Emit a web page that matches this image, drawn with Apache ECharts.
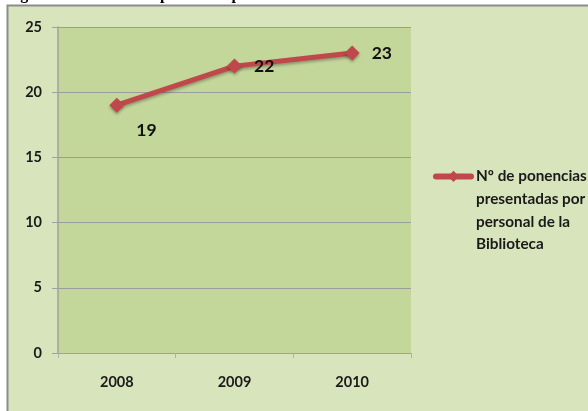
<!DOCTYPE html>
<html>
<head>
<meta charset="utf-8">
<script src="https://cdn.jsdelivr.net/npm/echarts@6/dist/echarts.min.js"></script>
<style>
  html, body { margin: 0; padding: 0; background: #ffffff; }
  #chart { width: 588px; height: 411px; }
</style>
</head>
<body>
<div id="chart"></div>
<script>
// Ponencias presentadas por personal de la Biblioteca, por año
const years = ['2008', '2009', '2010'];
const ponencias = [19, 22, 23];
const seriesName = 'Nº de ponencias\npresentadas por\npersonal de la\nBiblioteca';
const yTicks = { min: 0, max: 25, interval: 5 };

const FONT = "Lato, 'Open Sans', sans-serif";
const LINE_RED = '#c0474a';

const chart = echarts.init(document.getElementById('chart'), null, { renderer: 'canvas' });

chart.setOption({
  animation: false,
  backgroundColor: '#ffffff',
  graphic: [
    // chart frame
    {
      type: 'rect',
      z: -10,
      shape: { x: 7.5, y: 5.5, width: 600, height: 420 },
      style: { fill: '#d8e4bc', stroke: '#8c8c8c', lineWidth: 2 }
    },
    // caption line, clipped at the top edge of the page
    {
      type: 'text',
      z: -5,
      left: 6,
      top: -13,
      style: {
        text: 'Figura 12. Número de ponencias presentadas',
        font: "bold 16px 'Liberation Serif', serif",
        fill: '#000000'
      }
    }
  ],
  grid: {
    left: 58, top: 27, width: 353, height: 326,
    show: true,
    backgroundColor: '#c4d79b',
    borderWidth: 0
  },
  legend: {
    orient: 'vertical',
    left: 433,
    top: 97,
    padding: 0,
    itemWidth: 35,
    itemHeight: 14,
    itemGap: 4,
    data: [seriesName],
    // blank lines above keep the marker level with the first line of the name
    formatter: function (name) { return '\n\n\n' + name; },
    lineStyle: { width: 6, cap: 'round' },
    textStyle: {
      fontFamily: FONT,
      fontSize: 15.3,
      fontWeight: 'bold',
      color: '#1a1a1a',
      lineHeight: 22.7
    }
  },
  xAxis: {
    type: 'category',
    data: years,
    boundaryGap: true,
    axisLine: { show: true, lineStyle: { color: '#a0a0a0', width: 1 } },
    axisTick: { show: true, length: 5, alignWithLabel: false, lineStyle: { color: '#b0b0b0' } },
    axisLabel: {
      margin: 22,
      fontFamily: FONT,
      fontSize: 14.5,
      fontWeight: 'bold',
      color: '#1a1a1a'
    },
    splitLine: { show: false }
  },
  yAxis: {
    type: 'value',
    min: yTicks.min,
    max: yTicks.max,
    interval: yTicks.interval,
    axisLine: { show: true, lineStyle: { color: '#a0a0a0', width: 1.5 } },
    axisTick: { show: true, length: 6, lineStyle: { color: '#a0a0a0' } },
    axisLabel: {
      margin: 16,
      fontFamily: FONT,
      fontSize: 14.5,
      fontWeight: 'bold',
      color: '#1a1a1a'
    },
    splitLine: { show: true, lineStyle: { color: '#9c9c9c', width: 1 } }
  },
  series: [{
    name: seriesName,
    type: 'line',
    data: ponencias,
    symbol: 'diamond',
    symbolSize: 15,
    lineStyle: {
      color: LINE_RED, width: 5, cap: 'round',
      shadowColor: 'rgba(0,0,0,0.3)', shadowBlur: 3, shadowOffsetY: 2
    },
    itemStyle: {
      color: LINE_RED,
      shadowColor: 'rgba(0,0,0,0.3)', shadowBlur: 3, shadowOffsetY: 2
    },
    label: {
      show: true,
      position: 'right',
      distance: 12,
      fontFamily: FONT,
      fontSize: 17.5,
      fontWeight: 'bold',
      color: '#111111'
    },
    labelLayout: function (params) {
      // the first value sits below-right of its marker
      if (params.dataIndex === 0) {
        return { dx: 0, dy: 25 };
      }
      return {};
    }
  }]
});
</script>
</body>
</html>
